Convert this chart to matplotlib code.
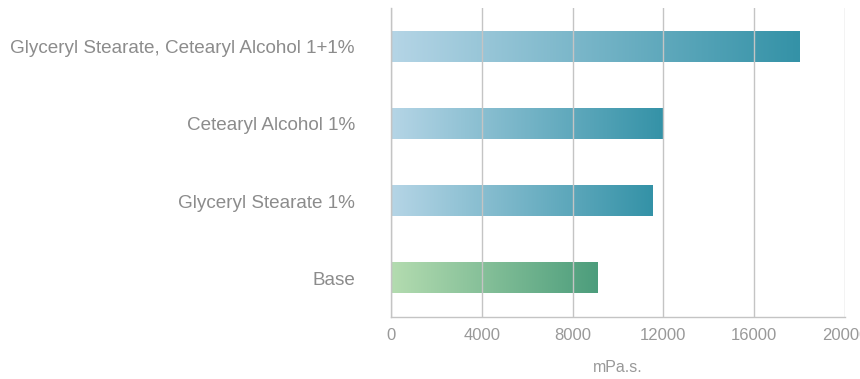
import numpy as np
import matplotlib.pyplot as plt
from matplotlib.colors import LinearSegmentedColormap

# data
categories = ["Glyceryl Stearate, Cetearyl Alcohol 1+1%", "Cetearyl Alcohol 1%",
              "Glyceryl Stearate 1%", "Base"]
values = [18000, 12000, 11500, 9100]
ticks = [0, 4000, 8000, 12000, 16000, 20000]
xlabel = "mPa.s."

plt.rcParams['font.family'] = ['Liberation Sans', 'DejaVu Sans']

blue = LinearSegmentedColormap.from_list("blue", ["#b5d5e6", "#3492a7"])
green = LinearSegmentedColormap.from_list("green", ["#b4dcb0", "#4c9d7c"])

fig = plt.figure(figsize=(8.6, 3.79), dpi=100)
ax = fig.add_axes([391 / 860, 62 / 379, 454 / 860, 309 / 379])

n = len(categories)
ypos = np.arange(n)[::-1]
h = 0.39
grad = np.linspace(0, 1, 256).reshape(1, -1)

for y, v, cat in zip(ypos, values, categories):
    cmap = green if cat == "Base" else blue
    ax.imshow(grad, cmap=cmap, aspect='auto', extent=(0, v, y - h / 2, y + h / 2),
              zorder=1, interpolation='bilinear')

ax.set_xlim(0, 20000)
ax.set_ylim(-0.5, n - 0.5)
ax.set_xticks(ticks)
ax.set_xticklabels([str(t) for t in ticks])
ax.set_yticks(ypos)
ax.set_yticklabels(categories)

ax.grid(axis='x', color='#c4c4c4', linewidth=1, zorder=2)
ax.set_axisbelow(False)
for s in ['top', 'right']:
    ax.spines[s].set_visible(False)
for s in ['left', 'bottom']:
    ax.spines[s].set_color('#c4c4c4')
    ax.spines[s].set_linewidth(1)

ax.tick_params(axis='x', length=0, pad=8, labelsize=12, labelcolor='#999999')
ax.tick_params(axis='y', length=0, pad=26, labelsize=13.6, labelcolor='#8c8c8c')
ax.set_xlabel(xlabel, fontsize=11.5, color='#999999', labelpad=12)

fig.savefig("out.png", dpi=100)
